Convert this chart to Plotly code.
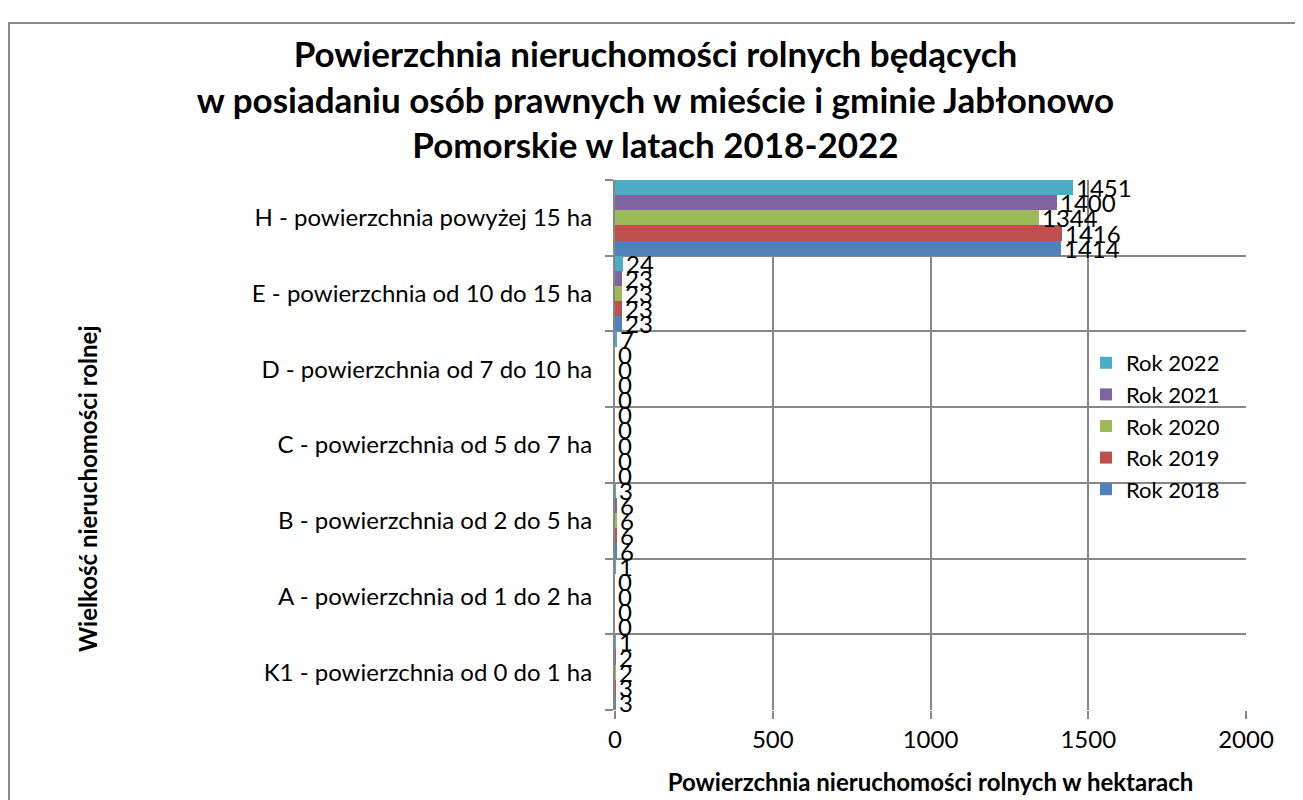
import plotly.graph_objects as go

categories = [
    "K1 - powierzchnia od 0 do 1 ha",
    "A - powierzchnia od 1 do 2 ha",
    "B - powierzchnia od 2 do 5 ha",
    "C - powierzchnia od 5 do 7 ha",
    "D - powierzchnia od 7 do 10 ha",
    "E - powierzchnia od 10 do 15 ha",
    "H - powierzchnia powyżej 15 ha",
]
series_names = ["Rok 2018", "Rok 2019", "Rok 2020", "Rok 2021", "Rok 2022"]
rok_2018 = [3, 0, 6, 0, 0, 23, 1414]
rok_2019 = [3, 0, 6, 0, 0, 23, 1416]
rok_2020 = [2, 0, 6, 0, 0, 23, 1344]
rok_2021 = [2, 0, 6, 0, 0, 23, 1400]
rok_2022 = [1, 1, 3, 0, 7, 24, 1451]
series_values = [rok_2018, rok_2019, rok_2020, rok_2021, rok_2022]
colors = ["#4F81BD", "#C0504D", "#9BBB59", "#8064A2", "#4BACC6"]
x_ticks = [0, 500, 1000, 1500, 2000]

FONT = "Lato"
GRID = "#878787"

# figure coordinates (page body has an 8px margin)
W, H = 1295, 792
L, R, T, B = 607, 1238, 172, 702
PW, PH = R - L, B - T

fig = go.Figure()
for name, vals, col in zip(series_names, series_values, colors):
    fig.add_trace(go.Bar(
        y=categories, x=vals, name=name, orientation="h",
        marker=dict(color=col, line=dict(width=0)),
        text=vals, texttemplate="%{x}", textposition="outside",
        textfont=dict(family=FONT, size=24, color="black"),
        constraintext="none", cliponaxis=False,
    ))

fig.update_layout(
    width=W, height=H,
    margin=dict(l=L, r=W - R, t=T, b=H - B, autoexpand=False),
    paper_bgcolor="white", plot_bgcolor="white",
    barmode="group", bargap=0, bargroupgap=0,
    title=dict(
        text="Powierzchnia nieruchomości rolnych będących<br>w posiadaniu osób prawnych w mieście i gminie Jabłonowo<br>Pomorskie w latach 2018-2022",
        font=dict(family=FONT, size=35, color="black", weight="bold"),
        x=0.5, xanchor="center", y=1 - 59 / H, yanchor="top",
    ),
    font=dict(family=FONT, size=24, color="black"),
    legend=dict(
        x=(1078 - L) / PW, y=(B - 334) / PH, xanchor="left", yanchor="top",
        traceorder="reversed", bgcolor="rgba(0,0,0,0)",
        font=dict(family=FONT, size=22, color="black"),
        itemwidth=30, tracegroupgap=0,
    ),
    xaxis=dict(
        range=[0, 2000], tickvals=x_ticks, showgrid=True, gridcolor=GRID, gridwidth=2,
        ticks="outside", ticklen=8, tickcolor=GRID, tickwidth=2,
        zeroline=False, showline=False,
        tickfont=dict(family=FONT, size=24, color="black"),
        title=dict(text="<b>Powierzchnia nieruchomości rolnych w hektarach</b>",
                   font=dict(family=FONT, size=24, color="black"), standoff=22),
    ),
    yaxis=dict(
        type="category", categoryorder="array", categoryarray=categories,
        range=[-0.5, 6.5], tickson="boundaries", showgrid=True, gridcolor=GRID, gridwidth=2,
        ticks="outside", ticklen=8, tickcolor=GRID, tickwidth=2,
        showline=True, linecolor=GRID, linewidth=2,
        tickfont=dict(family=FONT, size=24, color="black"),
        ticklabelstandoff=16,
    ),
    shapes=[dict(type="rect", xref="paper", yref="paper",
                 x0=(1 - L) / PW, x1=(1288 - L) / PW,
                 y0=-0.3, y1=(B - 15) / PH,
                 line=dict(color="#888888", width=2), fillcolor="rgba(0,0,0,0)", layer="below")],
    annotations=[dict(text="<b>Wielkość nieruchomości rolnej</b>", textangle=-90,
                      xref="paper", yref="paper", x=(79 - L) / PW, y=(B - 481) / PH,
                      xanchor="center", yanchor="middle", showarrow=False,
                      font=dict(family=FONT, size=24, color="black"))],
)

fig.write_html("out.html")
